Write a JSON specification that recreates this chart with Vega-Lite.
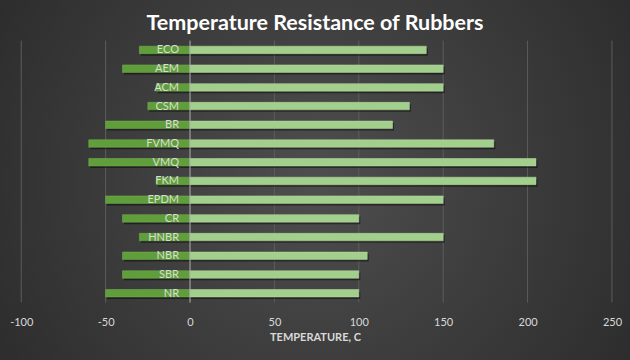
{
  "$schema": "https://vega.github.io/schema/vega-lite/v6.json",
  "width": 630,
  "height": 360,
  "autosize": {"type": "none"},
  "padding": 0,
  "background": "#2b2b2b",
  "title": {
    "text": "Temperature Resistance of Rubbers",
    "font": "Lato",
    "fontSize": 21.5,
    "fontWeight": "bold",
    "color": "#ffffff",
    "anchor": "middle",
    "baseline": "bottom",
    "offset": -56
  },
  "config": {
    "view": {
      "stroke": null,
      "fill": {
        "gradient": "radial",
        "x1": 0.5, "y1": 0.5, "r1": 0,
        "x2": 0.5, "y2": 0.5, "r2": 0.75,
        "stops": [
          {"offset": 0, "color": "#4e4e4e"},
          {"offset": 1, "color": "#232323"}
        ]
      }
    }
  },
  "datasets": {
    "rubbers": [
      {"rubber": "ECO", "min": -30, "max": 140},
      {"rubber": "AEM", "min": -40, "max": 150},
      {"rubber": "ACM", "min": -20, "max": 150},
      {"rubber": "CSM", "min": -25, "max": 130},
      {"rubber": "BR", "min": -50, "max": 120},
      {"rubber": "FVMQ", "min": -60, "max": 180},
      {"rubber": "VMQ", "min": -60, "max": 205},
      {"rubber": "FKM", "min": -20, "max": 205},
      {"rubber": "EPDM", "min": -50, "max": 150},
      {"rubber": "CR", "min": -40, "max": 100},
      {"rubber": "HNBR", "min": -30, "max": 150},
      {"rubber": "NBR", "min": -40, "max": 105},
      {"rubber": "SBR", "min": -40, "max": 100},
      {"rubber": "NR", "min": -50, "max": 100}
    ],
    "ticks": [
      {"t": -100}, {"t": -50}, {"t": 50}, {"t": 100}, {"t": 150}, {"t": 200}, {"t": 250}
    ]
  },
  "encoding": {
    "y": {
      "field": "rubber",
      "type": "nominal",
      "sort": ["ECO", "AEM", "ACM", "CSM", "BR", "FVMQ", "VMQ", "FKM", "EPDM", "CR", "HNBR", "NBR", "SBR", "NR"],
      "scale": {"range": [40.6, 302.6], "paddingInner": 0.6, "paddingOuter": 0.3, "round": false},
      "axis": null
    }
  },
  "layer": [
    {
      "data": {"name": "ticks"},
      "mark": {"type": "rule", "color": "#5c5c5c", "strokeWidth": 1},
      "encoding": {
        "x": {
          "field": "t", "type": "quantitative",
          "scale": {"domain": [-112.6, 260.7], "nice": false, "zero": false},
          "axis": {
            "values": [-100, -50, 0, 50, 100, 150, 200, 250],
            "labelExpr": "'' + datum.value",
            "orient": "bottom",
            "offset": -46,
            "domain": false,
            "ticks": false,
            "grid": false,
            "labelFont": "Lato",
            "labelFontSize": 11,
            "labelColor": "#d9d9d9",
            "labelPadding": 2,
            "title": "TEMPERATURE, C",
            "titleFont": "Lato",
            "titleFontSize": 11,
            "titleFontWeight": "bold",
            "titleColor": "#d9d9d9",
            "titlePadding": 4
          }
        },
        "y": {"datum": "ECO", "bandPosition": -0.75},
        "y2": {"datum": "NR", "bandPosition": 1.75}
      }
    },
    {
      "data": {"name": "rubbers"},
      "layer": [
        {
          "mark": {"type": "bar", "color": "#000000", "opacity": 0.45, "xOffset": 1.5, "yOffset": 2},
          "encoding": {
            "x": {"field": "min", "type": "quantitative"},
            "x2": {"datum": 0}
          }
        },
        {
          "mark": {"type": "bar", "color": "#000000", "opacity": 0.45, "xOffset": 1.5, "yOffset": 2},
          "encoding": {
            "x": {"field": "max", "type": "quantitative"},
            "x2": {"datum": 0}
          }
        },
        {
          "mark": {"type": "bar", "color": "#5f9e3a", "stroke": "#78b552", "strokeWidth": 0.5},
          "encoding": {
            "x": {"field": "min", "type": "quantitative"},
            "x2": {"datum": 0}
          }
        },
        {
          "mark": {"type": "bar", "color": "#a2cf8b", "stroke": "#b9dda5", "strokeWidth": 0.5},
          "encoding": {
            "x": {"field": "max", "type": "quantitative"},
            "x2": {"datum": 0}
          }
        },
        {
          "mark": {"type": "text", "align": "right", "baseline": "middle", "dx": -11, "dy": 0.5, "font": "Lato", "fontSize": 11, "color": "#d8dfd2"},
          "encoding": {
            "x": {"datum": 0},
            "text": {"field": "rubber"}
          }
        }
      ]
    },
    {
      "data": {"values": [{"z": 0}]},
      "mark": {"type": "rule", "color": "#b0b0b0", "strokeWidth": 1},
      "encoding": {
        "x": {"field": "z", "type": "quantitative"},
        "y": {"datum": "ECO", "bandPosition": -0.75},
        "y2": {"datum": "NR", "bandPosition": 1.75}
      }
    }
  ]
}
